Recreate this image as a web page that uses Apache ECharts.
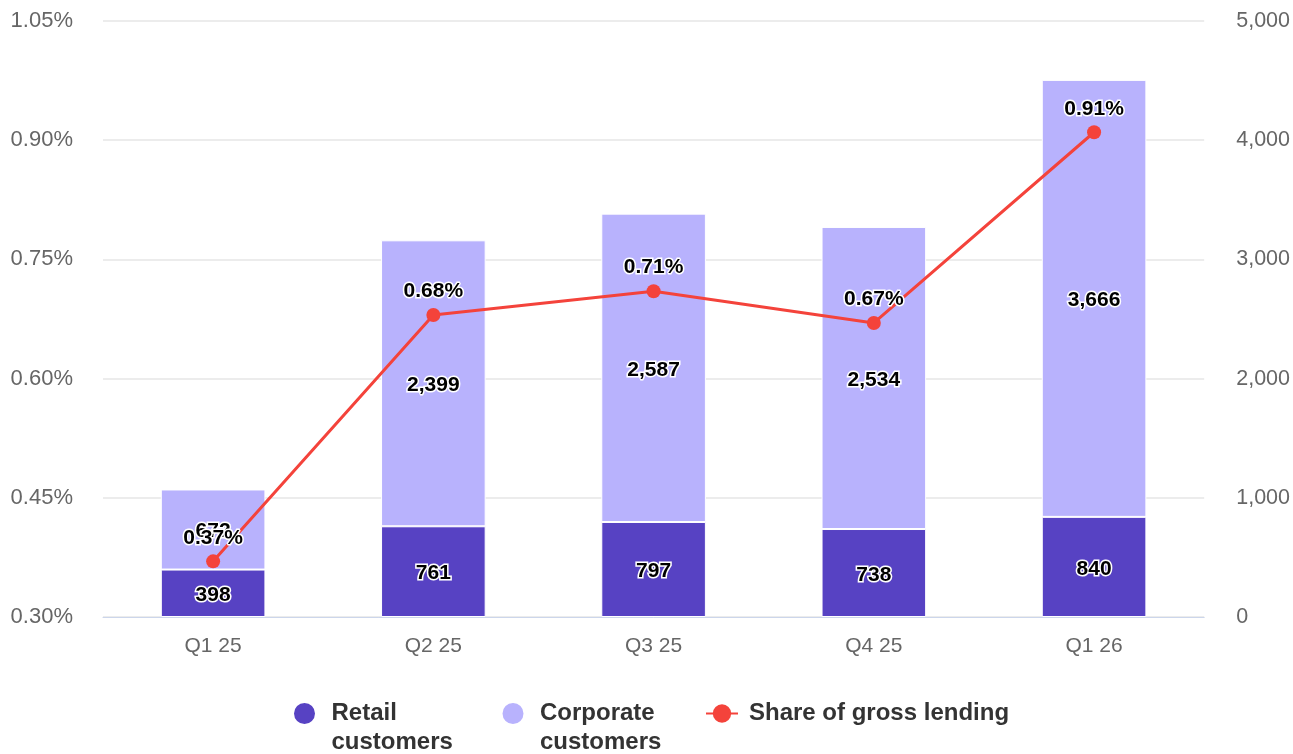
<!DOCTYPE html>
<html>
<head>
<meta charset="utf-8">
<script src="https://cdn.jsdelivr.net/npm/echarts@6/dist/echarts.min.js"></script>
<style>html,body{margin:0;padding:0;background:#fff}#c{width:1293px;height:754px}</style>
</head>
<body>
<div id="c"></div>
<script>
const categories = ['Q1 25', 'Q2 25', 'Q3 25', 'Q4 25', 'Q1 26'];
const retail = [398, 761, 797, 738, 840];
const corporate = [672, 2399, 2587, 2534, 3666];
const share = [0.37, 0.68, 0.71, 0.67, 0.91];
const names = ['Retail customers', 'Corporate customers', 'Share of gross lending'];

const font = '"Liberation Sans", Arial, sans-serif';
const labelStyle = {
  show: true, color: '#000', fontWeight: 'bold', fontSize: 21, fontFamily: font,
  textBorderColor: '#fff', textBorderWidth: 3
};

const chart = echarts.init(document.getElementById('c'));
chart.setOption({
  animation: false,
  textStyle: { fontFamily: font },
  grid: { left: 103, right: 87, top: 21, bottom: 137, containLabel: false },
  legend: {
    top: 670, left: 292, padding: 0, itemGap: 35, itemWidth: 32, itemHeight: 23,
    formatter: name => (name === names[2] ? name : '\n' + name),
    data: [
      { name: names[0], icon: 'circle', textStyle: { width: 134, overflow: 'break', padding: [0, 0, 0, 6] } },
      { name: names[1], icon: 'circle', textStyle: { width: 130, overflow: 'break', padding: [0, 0, 0, 6] } },
      { name: names[2], textStyle: { padding: [0, 0, 0, 6] } }
    ],
    textStyle: { fontSize: 24, fontWeight: 'bold', color: '#333', fontFamily: font, lineHeight: 29 }
  },
  xAxis: {
    type: 'category', data: categories,
    axisLine: { lineStyle: { color: '#ccd6eb' } },
    axisTick: { show: false },
    axisLabel: { color: '#666', fontSize: 21, margin: 19 }
  },
  yAxis: [
    {
      type: 'value', min: 0.30, max: 1.05, interval: 0.15,
      axisLabel: { color: '#666', fontSize: 22, margin: 30, formatter: v => v.toFixed(2) + '%' },
      splitLine: { lineStyle: { color: '#e6e6e6', width: 1.5 } },
      axisLine: { show: false }, axisTick: { show: false }
    },
    {
      type: 'value', min: 0, max: 5000, interval: 1000,
      axisLabel: { color: '#666', fontSize: 21.5, margin: 32, formatter: v => v.toLocaleString('en-US') },
      splitLine: { show: false },
      axisLine: { show: false }, axisTick: { show: false }
    }
  ],
  series: [
    {
      name: names[0], type: 'bar', stack: 'a', yAxisIndex: 1, data: retail, barWidth: '47.5%',
      itemStyle: { color: '#5742c3', borderColor: '#fff', borderWidth: 1 },
      label: Object.assign({ position: 'inside', offset: [0, 2], formatter: p => p.value.toLocaleString('en-US') }, labelStyle)
    },
    {
      name: names[1], type: 'bar', stack: 'a', yAxisIndex: 1, data: corporate, barWidth: '47.5%',
      itemStyle: { color: '#b8b2fd', borderColor: '#fff', borderWidth: 1 },
      label: Object.assign({ position: 'inside', offset: [0, 2], formatter: p => p.value.toLocaleString('en-US') }, labelStyle)
    },
    {
      name: names[2], type: 'line', yAxisIndex: 0, data: share, z: 5,
      symbol: 'circle', symbolSize: 14,
      lineStyle: { color: '#f4433b', width: 3 },
      itemStyle: { color: '#f4433b' },
      label: Object.assign({ position: 'top', distance: 6, formatter: p => p.value.toFixed(2) + '%' }, labelStyle)
    }
  ]
});
</script>
</body>
</html>
